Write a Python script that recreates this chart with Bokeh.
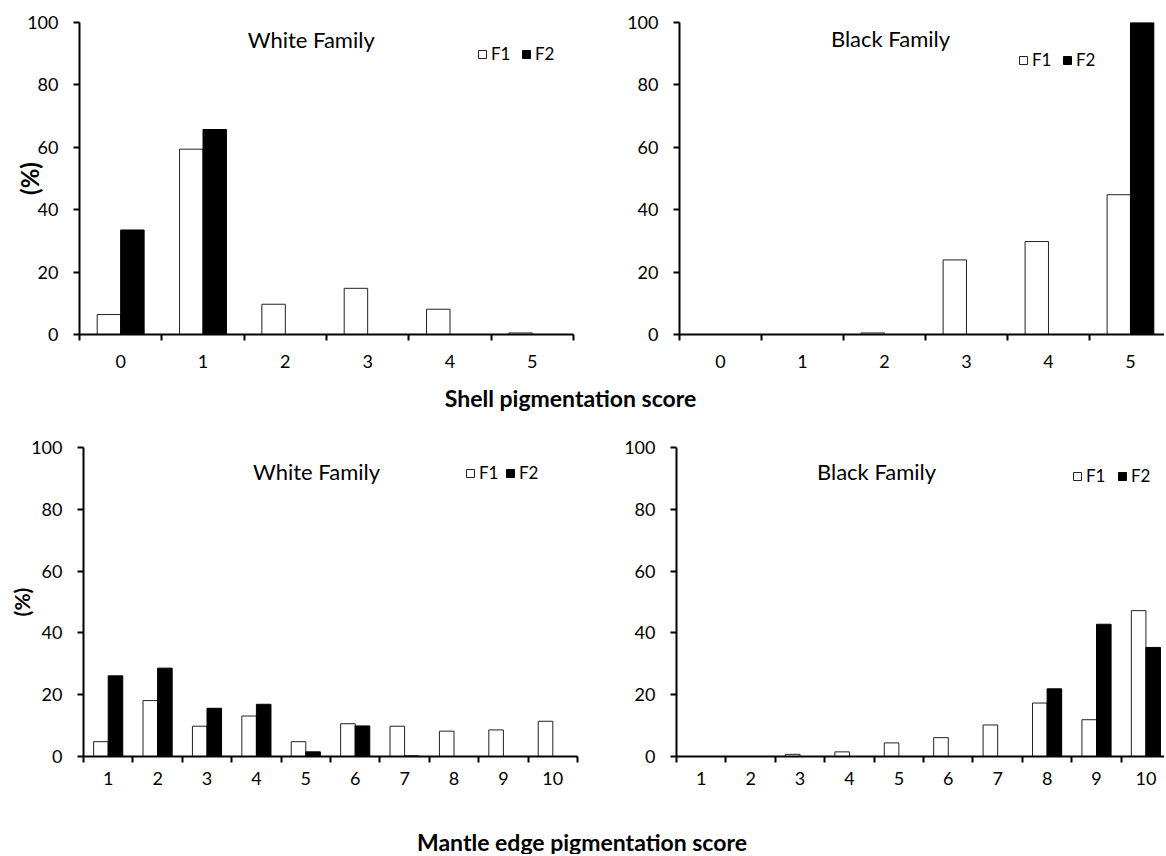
from bokeh.plotting import figure
from bokeh.models import ColumnDataSource, FixedTicker, Legend, LegendItem, Label, Range1d
from bokeh.layouts import column, row
from bokeh.embed import file_html
from bokeh.resources import INLINE

FONT = "Lato"

# ---------------- data ----------------
shell_scores = [0, 1, 2, 3, 4, 5]
shell_labels = ["0", "1", "2", "3", "4", "5"]
shell_white_f1 = [6.4, 59.4, 9.7, 14.8, 8.1, 0.5]
shell_white_f2 = [33.5, 65.7, 0, 0, 0, 0]
shell_black_f1 = [0, 0, 0.5, 23.9, 29.8, 44.8]
shell_black_f2 = [0, 0, 0, 0, 0, 100]

mantle_scores = [1, 2, 3, 4, 5, 6, 7, 8, 9, 10]
mantle_labels = ["1", "2", "3", "4", "5", "6", "7", "8", "9", "10"]
mantle_white_f1 = [4.8, 18.1, 9.8, 13.1, 4.8, 10.6, 9.8, 8.2, 8.6, 11.4]
mantle_white_f2 = [26.1, 28.6, 15.6, 16.9, 1.5, 9.9, 0.2, 0, 0, 0]
mantle_black_f1 = [0, 0, 0.7, 1.5, 4.4, 6.1, 10.2, 17.3, 11.9, 47.2]
mantle_black_f2 = [0, 0, 0, 0, 0, 0, 0, 21.9, 42.8, 35.3]

y_ticks = [0, 20, 40, 60, 80, 100]
series_names = ["F1", "F2"]


def panel(width, height, bl, br, bt, bb, x_range, scores, labels, f1, f2, bw,
          title, tx, ty, leg_loc, leg_spacing, x_standoff,
          ylabel=None, ylabel_size="24px", ylabel_standoff=0):
    p = figure(width=width, height=height, x_range=Range1d(*x_range), y_range=Range1d(0, 100),
               output_backend="svg", toolbar_location=None,
               min_border_left=bl, min_border_right=br, min_border_top=bt, min_border_bottom=bb)
    p.xgrid.visible = False
    p.ygrid.visible = False
    p.outline_line_color = None
    p.background_fill_color = "white"
    p.border_fill_color = "white"

    src = ColumnDataSource(dict(
        x1=[s - bw / 2 for s in scores],
        x2=[s + bw / 2 for s in scores],
        f1=f1, f2=f2))
    r1 = p.vbar(x="x1", width=bw, top="f1", bottom=0, source=src,
                fill_color="white", line_color="#222222", line_width=1)
    r2 = p.vbar(x="x2", width=bw, top="f2", bottom=0, source=src,
                fill_color="black", line_color="black", line_width=1)

    # x axis: labels at category centres, tick marks at category boundaries
    xa = p.xaxis[0]
    xa.ticker = FixedTicker(ticks=list(scores),
                            minor_ticks=[s - 0.5 for s in scores] + [scores[-1] + 0.5])
    xa.major_label_overrides = {s: l for s, l in zip(scores, labels)}
    xa.major_tick_out = 0
    xa.major_tick_in = 0
    xa.minor_tick_out = 6
    xa.minor_tick_in = 0
    xa.minor_tick_line_width = 2
    xa.minor_tick_line_color = "black"
    xa.axis_line_width = 2
    xa.axis_line_color = "black"
    xa.major_label_standoff = x_standoff
    xa.major_label_text_font = FONT
    xa.major_label_text_font_size = "18px"
    xa.major_label_text_color = "black"

    ya = p.yaxis[0]
    ya.ticker = FixedTicker(ticks=y_ticks)
    ya.major_tick_out = 6
    ya.major_tick_in = 0
    ya.minor_tick_out = 0
    ya.major_tick_line_width = 2
    ya.major_tick_line_color = "black"
    ya.axis_line_width = 2
    ya.axis_line_color = "black"
    ya.major_label_standoff = 15
    ya.major_label_text_font = FONT
    ya.major_label_text_font_size = "18px"
    ya.major_label_text_color = "black"
    if ylabel:
        ya.axis_label = ylabel
        ya.axis_label_text_font = FONT
        ya.axis_label_text_font_style = "bold"
        ya.axis_label_text_font_size = ylabel_size
        ya.axis_label_text_color = "black"
        ya.axis_label_standoff = ylabel_standoff

    p.add_layout(Label(x=tx, y=ty, text=title, text_font=FONT, text_font_size="22px",
                       text_align="center", text_baseline="middle", text_color="black"))

    legend = Legend(items=[LegendItem(label=series_names[0], renderers=[r1]),
                           LegendItem(label=series_names[1], renderers=[r2])],
                    location=leg_loc, orientation="horizontal",
                    glyph_width=10, glyph_height=10, label_standoff=4, spacing=leg_spacing,
                    padding=0, margin=0, border_line_color=None, background_fill_alpha=0,
                    label_text_font=FONT, label_text_font_size="17px", label_height=10,
                    label_text_color="black")
    p.add_layout(legend)
    return p


def text_fig(width, height, text, cx, cy_top, size):
    f = figure(width=width, height=height, x_range=Range1d(0, width), y_range=Range1d(0, height),
               output_backend="svg", toolbar_location=None, min_border=0,
               x_axis_location=None, y_axis_location=None)
    f.xgrid.visible = False
    f.ygrid.visible = False
    f.outline_line_color = None
    f.add_layout(Label(x=cx, y=height - cy_top, text=text, text_font=FONT, text_font_size=size,
                       text_font_style="bold", text_align="center", text_baseline="middle",
                       text_color="black"))
    return f


p1 = panel(588, 375, 79, 15, 21, 41, (-0.5, 5.5), shell_scores, shell_labels,
           shell_white_f1, shell_white_f2, 0.285,
           "White Family", 2.315, 94.5, (398, 270), 10, 14,
           ylabel="(%)", ylabel_size="24px", ylabel_standoff=-20)
p2 = panel(576, 375, 91, 0, 22, 40, (-0.5, 5.415), shell_scores, shell_labels,
           shell_black_f1, shell_black_f2, 0.285,
           "Black Family", 2.073, 94.8, (339, 264), 10, 14)
p3 = panel(588, 382, 83, 11, 35, 33, (0.5, 10.5), mantle_scores, mantle_labels,
           mantle_white_f1, mantle_white_f2, 0.295,
           "White Family", 5.217, 92.3, (382, 273), 6, 9,
           ylabel="(%)", ylabel_size="21px", ylabel_standoff=-6)
p4 = panel(576, 382, 88, 0, 31, 38, (0.5, 10.376), mantle_scores, mantle_labels,
           mantle_black_f1, mantle_black_f2, 0.295,
           "Black Family", 4.548, 92.3, (396, 270), 11, 9)

t1 = text_fig(1164, 37, "Shell pigmentation score", 570, 22, "23px")
t2 = text_fig(1164, 60, "Mantle edge pigmentation score", 581.5, 47, "23px")

layout = column(row(p1, p2), t1, row(p3, p4), t2)

open("out.html", "w").write(file_html(layout, INLINE))
